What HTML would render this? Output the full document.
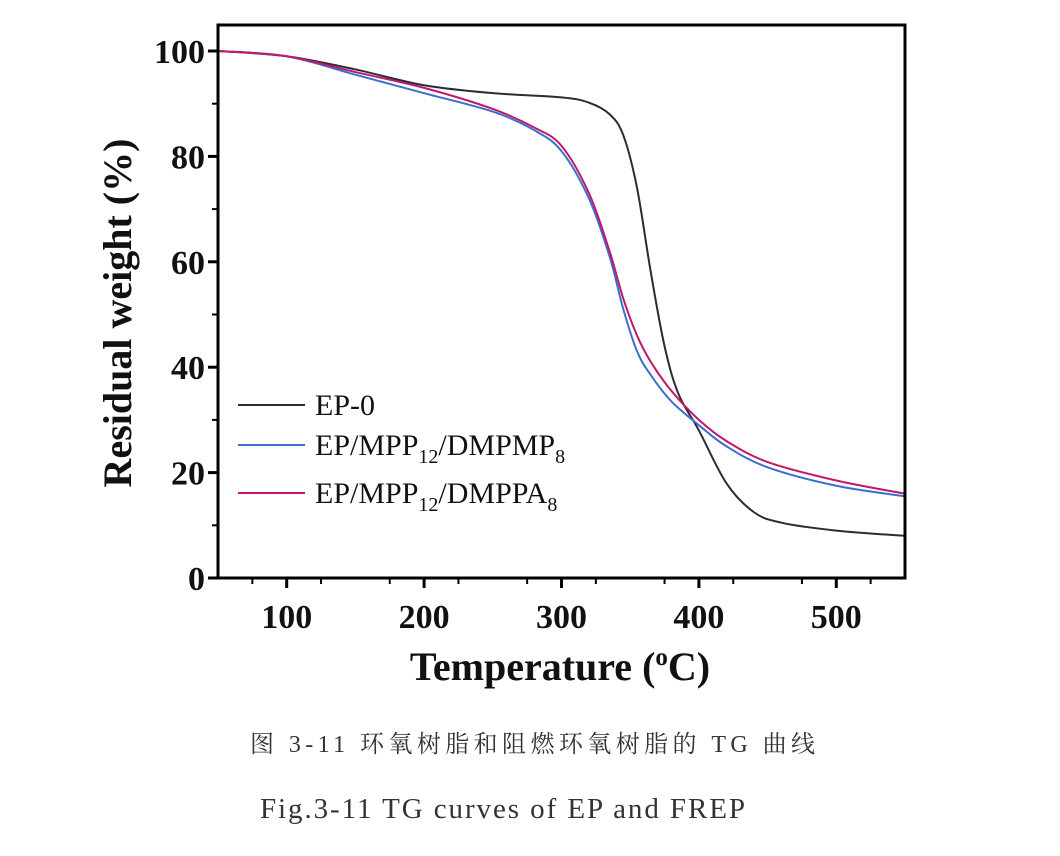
<!DOCTYPE html>
<html><head><meta charset="utf-8"><style>
body{margin:0;background:#fff;width:1060px;height:856px;overflow:hidden}
svg{display:block}
</style></head><body>
<svg width="1060" height="856" xmlns="http://www.w3.org/2000/svg">
<g id="plot"></g>
</svg>
<script>
const xTicks=[100,200,300,400,500];
const yTicks=[0,20,40,60,80,100];
const t0=[50,100,150,200,250,300,320,335,345,355,365,375,385,400,420,440,460,500,550];
const ep0=[100,99,96.5,93.5,92,91.2,90.2,88,84,74,58,44,35,28,18,12.5,10.5,9,8];
const t1=[50,100,150,200,250,280,300,320,335,345,355,365,380,400,420,450,500,550];
const dmpmp=[100,99,95.5,92,88.5,85,81,72,61,51,43,38.5,33.5,29,25,21,17.5,15.5];
const t2=[50,100,150,200,250,280,300,320,335,345,355,365,380,400,420,450,500,550];
const dmppa=[100,99,96,93,89,85.5,82,73,62,53,46,41,35.5,30,26,22,18.5,16];
const NS="http://www.w3.org/2000/svg";
const L=218,R=905,T=25,B=578;
const sx=v=>L+(v-50)/500*(R-L);
const sy=v=>B-v/100*(B-51);
const g=document.getElementById('plot');
function mk(tag,attrs,name,parent){const e=document.createElementNS(NS,tag);for(const k in attrs)e.setAttribute(k,attrs[k]);


(parent||g).appendChild(e);return e;}
function path(xs,ys){const p=xs.map((x,i)=>[sx(x),sy(ys[i])]);let d=`M${p[0][0]},${p[0][1]}`;
for(let i=0;i<p.length-1;i++){const p0=p[i-1]||p[i],p1=p[i],p2=p[i+1],p3=p[i+2]||p2;
d+=` C${p1[0]+(p2[0]-p0[0])/6},${p1[1]+(p2[1]-p0[1])/6} ${p2[0]-(p3[0]-p1[0])/6},${p2[1]-(p3[1]-p1[1])/6} ${p2[0]},${p2[1]}`;}return d;}
mk('path',{d:path(t0,ep0),fill:'none',stroke:'#2a2a3a','stroke-width':2},'series-ep-0');
mk('path',{d:path(t1,dmpmp),fill:'none',stroke:'#3a6fd0','stroke-width':2},'series-ep-mpp12-dmpmp8');
mk('path',{d:path(t2,dmppa),fill:'none',stroke:'#c0186a','stroke-width':2},'series-ep-mpp12-dmppa8');
mk('rect',{x:L,y:T,width:R-L,height:B-T,fill:'none',stroke:'#000','stroke-width':3},'plot-frame');
const tf='font-family:"Liberation Serif",serif;font-weight:bold;font-size:34px;fill:#111';
xTicks.forEach(v=>{mk('line',{x1:sx(v),x2:sx(v),y1:B,y2:B+10,stroke:'#000','stroke-width':3},'x-tick');
const t=mk('text',{x:sx(v),y:B+50,'text-anchor':'middle',style:tf},'x-tick-label');t.textContent=v;});
[75,125,175,225,275,325,375,425,475,525].forEach(v=>mk('line',{x1:sx(v),x2:sx(v),y1:B,y2:B+6,stroke:'#000','stroke-width':2},'x-minor-tick'));
yTicks.forEach(v=>{mk('line',{x1:L-10,x2:L,y1:sy(v),y2:sy(v),stroke:'#000','stroke-width':3},'y-tick');
const t=mk('text',{x:L-13,y:sy(v)+12,'text-anchor':'end',style:tf},'y-tick-label');t.textContent=v;});
[10,30,50,70,90].forEach(v=>mk('line',{x1:L-6,x2:L,y1:sy(v),y2:sy(v),stroke:'#000','stroke-width':2},'y-minor-tick'));
const xt=mk('text',{x:560,y:680,'text-anchor':'middle',style:'font-family:"Liberation Serif",serif;font-weight:bold;font-size:40px;fill:#111'},'x-axis-title');
xt.innerHTML='Temperature (<tspan dy="-15" font-size="25">o</tspan><tspan dy="15">C)</tspan>';
const yt=mk('text',{x:0,y:0,'text-anchor':'middle',transform:'translate(131,313) rotate(-90)',style:'font-family:"Liberation Serif",serif;font-weight:bold;font-size:40px;fill:#111'},'y-axis-title');
yt.textContent='Residual weight (%)';
const lg=[['#2a2a3a','EP-0'],['#3a6fd0','EP/MPP<tspan dy="8" font-size="20">12</tspan><tspan dy="-8">/DMPMP</tspan><tspan dy="8" font-size="20">8</tspan>'],['#c0186a','EP/MPP<tspan dy="8" font-size="20">12</tspan><tspan dy="-8">/DMPPA</tspan><tspan dy="8" font-size="20">8</tspan>']];
lg.forEach((e,i)=>{const y=[405,445,493][i];mk('line',{x1:238,x2:305,y1:y,y2:y,stroke:e[0],'stroke-width':2},'legend-line');
const t=mk('text',{x:315,y:y+10,style:'font-family:"Liberation Serif",serif;font-size:30px;fill:#111'},'legend-entry');t.innerHTML=e[1];});
const c1=mk('text',{x:250,y:752,textLength:565,lengthAdjust:'spacing',style:'font-family:"Liberation Serif","Noto Serif CJK SC",serif;font-size:24px;fill:#333'},'caption-chinese');
c1.textContent='图 3-11  环氧树脂和阻燃环氧树脂的 TG 曲线';
const c2=mk('text',{x:260,y:818,textLength:485,lengthAdjust:'spacing',style:'font-family:"Liberation Serif",serif;font-size:29px;fill:#333'},'caption-english');
c2.textContent='Fig.3-11 TG curves of EP and FREP';
</script>
</body></html>
